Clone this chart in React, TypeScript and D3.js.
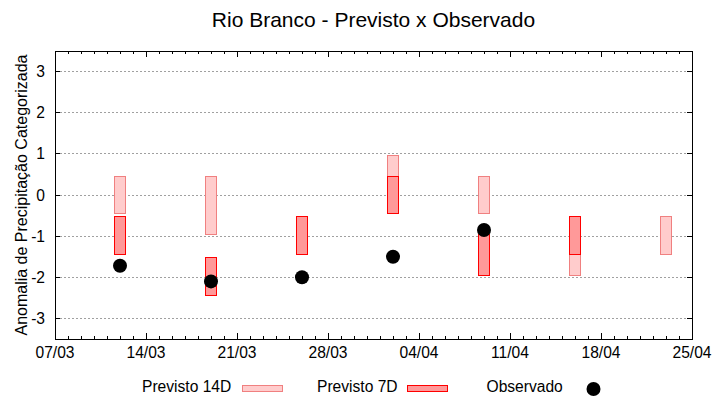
import React from "react";
import * as d3 from "d3";

// weekly forecast dates (day of the bars)
const dates = ["2024-03-12", "2024-03-19", "2024-03-26", "2024-04-02", "2024-04-09", "2024-04-16", "2024-04-23"];
// forecast 14 days ahead: low / high of the bar
const prev14Low = [-0.45, -0.95, null, -0.45, -0.45, -1.95, -1.45];
const prev14High = [0.45, 0.45, null, 0.95, 0.45, -0.95, -0.52];
// forecast 7 days ahead
const prev7Low = [-1.45, -2.45, -1.45, -0.45, -1.95, -1.45, null];
const prev7High = [-0.52, -1.52, -0.52, 0.45, -0.95, -0.52, null];
// observed category anomaly
const observed = [-1.72, -2.1, -2.0, -1.5, -0.85, null, null];

const yTicks = [-3, -2, -1, 0, 1, 2, 3];
const xTickLabels = ["07/03", "14/03", "21/03", "28/03", "04/04", "11/04", "18/04", "25/04"];

const W = 720, H = 400;
const M = { left: 55, right: 692, top: 51, bottom: 339 };
const FONT = "'Liberation Sans', Arial, sans-serif";

const c14 = { fill: "#ffcccc", stroke: "#f08080" };
const c7 = { fill: "#ff9999", stroke: "#ff0000" };

export default function App() {
  const parse = d3.utcParse("%Y-%m-%d");
  const start = parse("2024-03-07")!;
  const end = parse("2024-04-25")!;
  const x = d3.scaleUtc().domain([start, end]).range([M.left, M.right]);
  const y = d3.scaleLinear().domain([-3.5, 3.5]).range([M.bottom, M.top]);

  const stop = d3.utcDay.offset(end, 1);
  const days = d3.utcDay.range(start, stop);
  const weeks = d3.utcDay.range(start, stop, 7);
  const halfW = (x(d3.utcDay.offset(start, 1)) - x(start)) * 0.45;

  const bars = (low: (number | null)[], high: (number | null)[], col: { fill: string; stroke: string }, key: string) =>
    dates.map((d, i) => {
      const lo = low[i], hi = high[i];
      if (lo == null || hi == null) return null;
      const cx = x(parse(d)!);
      return (
        <rect key={key + i} x={cx - halfW} y={y(hi)} width={halfW * 2} height={y(lo) - y(hi)}
          fill={col.fill} stroke={col.stroke} strokeWidth={1} />
      );
    });

  return (
    <svg width={W} height={H} style={{ position: "absolute", left: 0, top: 0, background: "#fff" }} fontFamily={FONT}>
      <text x={(M.left + M.right) / 2} y={27} textAnchor="middle" fontSize={21} fill="#000">
        Rio Branco - Previsto x Observado
      </text>

      <g shapeRendering="crispEdges">
        {/* grid */}
        {yTicks.map(t => (
          <line key={"g" + t} x1={M.left + 5} x2={M.right - 5} y1={y(t)} y2={y(t)}
            stroke="#a0a0a0" strokeWidth={1} strokeDasharray="2,2" />
        ))}

        {/* y ticks */}
        {yTicks.map(t => (
          <g key={"y" + t}>
            <line x1={M.left} x2={M.left + 5} y1={y(t)} y2={y(t)} stroke="#000" />
            <line x1={M.right - 5} x2={M.right} y1={y(t)} y2={y(t)} stroke="#000" />
          </g>
        ))}

        {/* x minor ticks, bottom and top */}
        {days.map((d, i) => (
          <g key={"m" + i}>
            <line x1={x(d)} x2={x(d)} y1={M.bottom} y2={M.bottom - 3} stroke="#000" />
            <line x1={x(d)} x2={x(d)} y1={M.top} y2={M.top + 3} stroke="#000" />
          </g>
        ))}
        {weeks.map((d, i) => (
          <g key={"w" + i}>
            <line x1={x(d)} x2={x(d)} y1={M.bottom} y2={M.bottom - 6} stroke="#000" />
            <line x1={x(d)} x2={x(d)} y1={M.top} y2={M.top + 6} stroke="#000" />
          </g>
        ))}

        {/* bars */}
        {bars(prev14Low, prev14High, c14, "a")}
        {bars(prev7Low, prev7High, c7, "b")}
      </g>

      {yTicks.map(t => (
        <text key={"yl" + t} x={45} y={y(t)} dy="0.36em" textAnchor="end" fontSize={15.6} fill="#000">{t}</text>
      ))}
      {weeks.map((d, i) => (
        <text key={"xl" + i} x={x(d)} y={358} textAnchor="middle" fontSize={15.6} fill="#000">{xTickLabels[i]}</text>
      ))}

      {/* observed */}
      {dates.map((d, i) => observed[i] == null ? null : (
        <circle key={"o" + i} cx={x(parse(d)!)} cy={y(observed[i] as number)} r={7} fill="#000" />
      ))}

      {/* frame */}
      <rect x={M.left} y={M.top} width={M.right - M.left} height={M.bottom - M.top}
        fill="none" stroke="#000" strokeWidth={1} shapeRendering="crispEdges" />

      <text transform={`translate(27,${(M.top + M.bottom) / 2}) rotate(-90)`} textAnchor="middle" fontSize={16} fill="#000">
        Anomalia de Precipitação Categorizada
      </text>

      {/* legend */}
      <g shapeRendering="crispEdges">
        <rect x={242} y={385} width={40} height={6.5} fill={c14.fill} stroke={c14.stroke} />
        <rect x={407.5} y={385} width={40} height={6.5} fill={c7.fill} stroke={c7.stroke} />
      </g>
      <text x={142} y={391.5} fontSize={15.6} fill="#000">Previsto 14D</text>
      <text x={317} y={391.5} fontSize={15.6} fill="#000">Previsto 7D</text>
      <text x={486.5} y={391.5} fontSize={15.6} fill="#000">Observado</text>
      <circle cx={593.5} cy={389} r={7} fill="#000" />
    </svg>
  );
}
